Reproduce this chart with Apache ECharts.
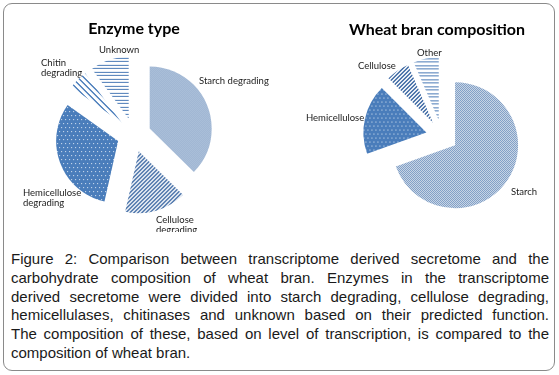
<!DOCTYPE html>
<html>
<head>
<meta charset="utf-8">
<script src="https://cdn.jsdelivr.net/npm/echarts@6/dist/echarts.min.js"></script>
<style>
  html, body { margin: 0; padding: 0; background: #ffffff; }
  body { width: 559px; height: 375px; position: relative; overflow: hidden; }
  #frame { position: absolute; left: 3px; top: 3px; width: 550px; height: 366px;
           border: 1.5px solid #8a8a8a; border-radius: 9px; }
  #chart { position: absolute; left: 0; top: 0; width: 559px; height: 232px; }
  #caption { position: absolute; left: 11px; top: 250px; width: 538px;
             font-family: 'Liberation Sans', Arial, sans-serif; font-size: 15px;
             line-height: 18.8px; color: #1a1a1a; }
  #caption div { text-align: justify; text-align-last: justify; white-space: nowrap; }
  #caption div.last { text-align-last: left; }
</style>
</head>
<body>
<div id="frame"></div>
<div id="chart"></div>
<div id="caption"></div>
<script>
// ---- data ----
const leftTitle = 'Enzyme type';
const rightTitle = 'Wheat bran composition';
const leftCategories = ['Starch degrading', 'Cellulose degrading', 'Hemicellulose degrading', 'Chitin degrading', 'Unknown'];
const leftValues = [37, 16, 31, 5, 10];
const leftLabelText = ['Starch degrading', 'Cellulose\ndegrading', 'Hemicellulose\ndegrading', 'Chitin\ndegrading', 'Unknown'];
const rightCategories = ['Starch', 'Hemicellulose', 'Cellulose', 'Other'];
const rightValues = [69.5, 18, 6, 6.5];
const rightLabelText = ['Starch', 'Hemicellulose', 'Cellulose', 'Other'];
const captionLines = [
  'Figure 2: Comparison between transcriptome derived secretome and the',
  'carbohydrate composition of wheat bran. Enzymes in the transcriptome',
  'derived secretome were divided into starch degrading, cellulose degrading,',
  'hemicellulases, chitinases and unknown based on their predicted function.',
  'The composition of these, based on level of transcription, is compared to the',
  'composition of wheat bran.'
];

// ---- styles ----
function pattern(w, h, draw) {
  const c = document.createElement('canvas');
  c.width = w; c.height = h;
  const ctx = c.getContext('2d');
  ctx.fillStyle = '#ffffff';
  ctx.fillRect(0, 0, w, h);
  draw(ctx);
  return { image: c, repeat: 'repeat' };
}
const patDotted = pattern(2, 2, ctx => { ctx.fillStyle = '#4c77ae'; ctx.fillRect(0, 0, 1, 1); ctx.fillRect(1, 1, 1, 1); });
const patHatch = pattern(4, 4, ctx => {
  ctx.fillStyle = '#3d69a4';
  for (let x = 0; x < 4; x++) for (let y = 0; y < 4; y++) if ((x + y) % 4 < 2) ctx.fillRect(x, y, 1, 1);
  ctx.fillRect(3, 1, 1, 1);
});
const patSolidDots = pattern(4, 8, ctx => {
  ctx.fillStyle = '#4a7dbb'; ctx.fillRect(0, 0, 4, 8);
  ctx.fillStyle = '#e4ecf6'; ctx.fillRect(1, 1, 1, 1); ctx.fillRect(3, 5, 1, 1);
});
const patDiag = pattern(6, 6, ctx => {
  ctx.fillStyle = '#4F81BD';
  for (let x = 0; x < 6; x++) for (let y = 0; y < 6; y++) if (((x - y) % 6 + 6) % 6 < 2) ctx.fillRect(x, y, 1, 1);
});
const patHoriz = pattern(4, 7, ctx => { ctx.fillStyle = '#4a7ab6'; ctx.fillRect(0, 0, 4, 1); ctx.fillRect(0, 4, 4, 1); });

const leftFills = [patDotted, patHatch, patSolidDots, patDiag, patHoriz];
const rightFills = [patDotted, patSolidDots, patHatch, patHoriz];
const leftLabelAt = [[199, 81], [156, 225], [23, 198], [41, 68], [99, 50]];
const rightLabelAt = [[511, 192], [306, 118], [358, 66], [417, 53]];

function buildData(cats, vals, fills) {
  return cats.map((name, i) => ({
    name: name,
    value: vals[i],
    selected: true,
    itemStyle: { color: fills[i], borderWidth: 0 },
    select: { itemStyle: { color: fills[i], borderWidth: 0 } }
  }));
}
function pieSeries(cats, vals, fills, center, radius, offset) {
  return {
    type: 'pie',
    center: center,
    radius: radius,
    startAngle: 90,
    clockwise: true,
    selectedMode: 'multiple',
    selectedOffset: offset,
    animation: false,
    silent: true,
    label: { show: false },
    labelLine: { show: false },
    emphasis: { disabled: true },
    data: buildData(cats, vals, fills)
  };
}
function labelTexts(texts, at) {
  return texts.map((t, i) => ({
    type: 'text', x: at[i][0], y: at[i][1], silent: true,
    style: { text: t, textAlign: 'left', textVerticalAlign: 'middle', fill: '#222',
             font: '9.5px Lato', lineHeight: 10 }
  }));
}

const chart = echarts.init(document.getElementById('chart'), null, { renderer: 'canvas' });
chart.setOption({
  animation: false,
  graphic: [
    { type: 'text', x: 134, y: 29, style: { text: leftTitle, textAlign: 'center', textVerticalAlign: 'middle',
      fill: '#000', font: 'bold 16px Lato' } },
    { type: 'text', x: 437, y: 30, style: { text: rightTitle, textAlign: 'center', textVerticalAlign: 'middle',
      fill: '#000', font: 'bold 16px Lato' } }
  ].concat(labelTexts(leftLabelText, leftLabelAt), labelTexts(rightLabelText, rightLabelAt)),
  series: [
    pieSeries(leftCategories, leftValues, leftFills, [134, 135], 62, 17),
    pieSeries(rightCategories, rightValues, rightFills, [442, 136], 63, 16)
  ]
});

const cap = document.getElementById('caption');
captionLines.forEach((t, i) => {
  const d = document.createElement('div');
  d.textContent = t;
  if (i === captionLines.length - 1) d.className = 'last';
  cap.appendChild(d);
});
</script>
</body>
</html>
